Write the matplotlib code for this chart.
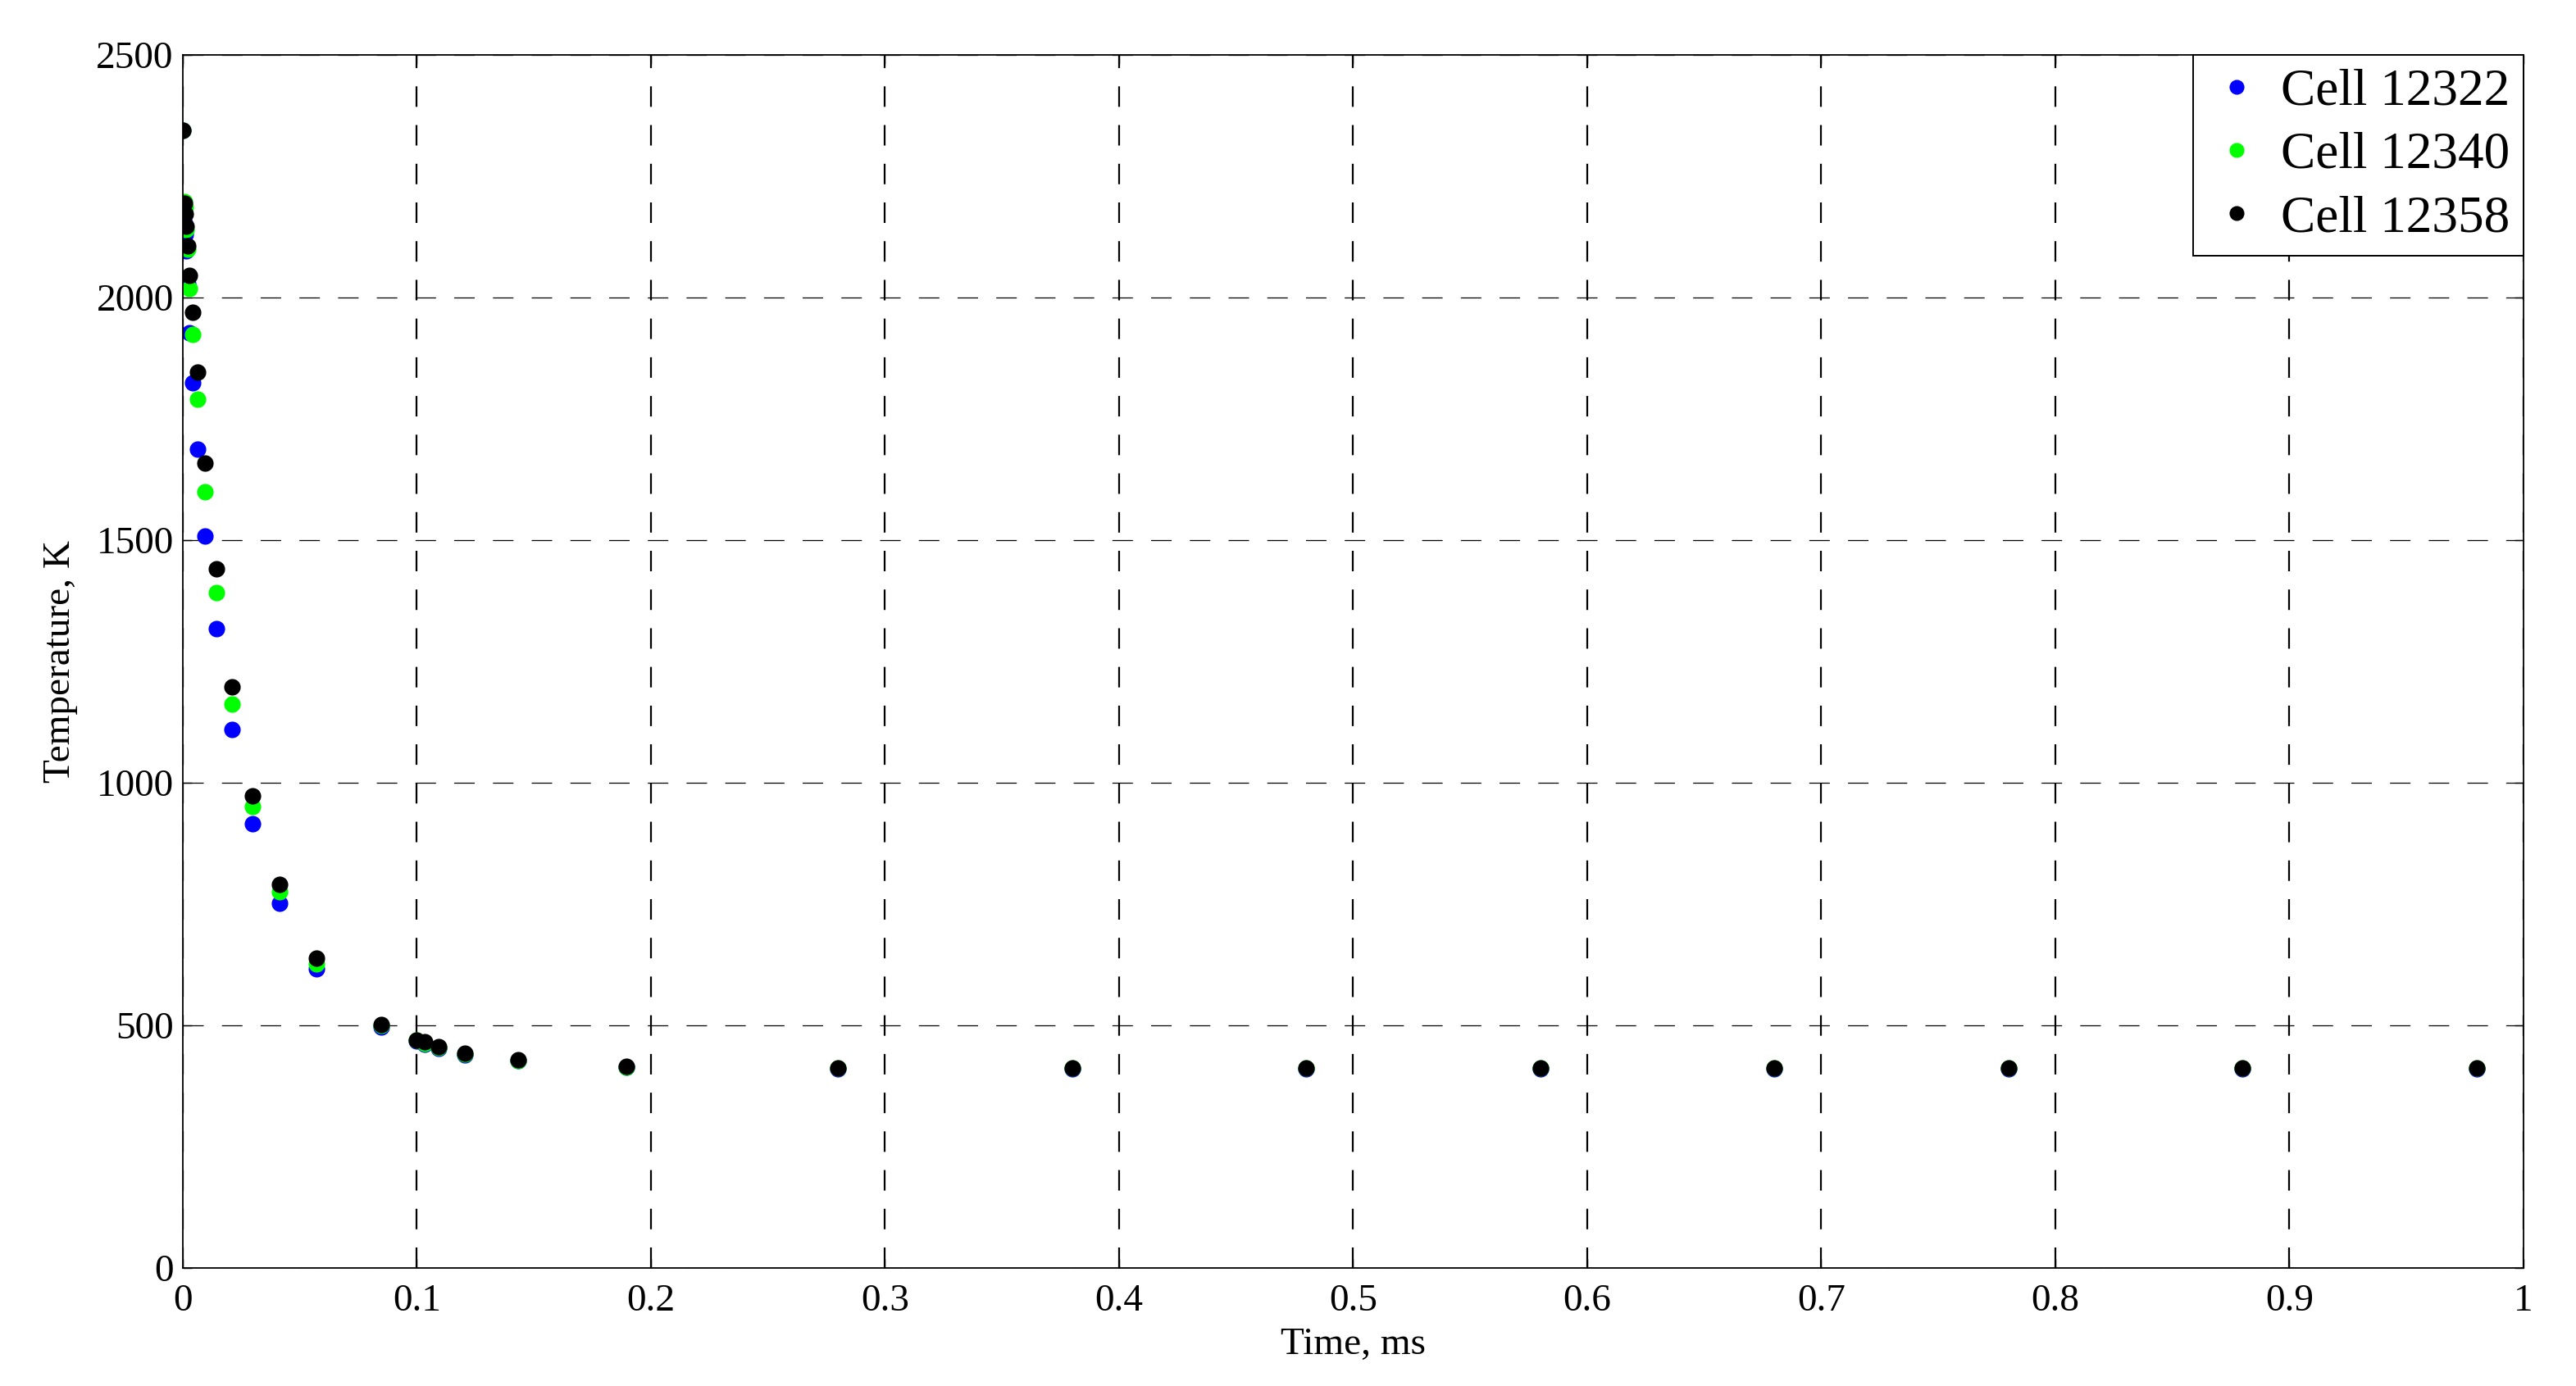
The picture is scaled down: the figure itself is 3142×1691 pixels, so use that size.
import matplotlib
matplotlib.use('Agg')
import matplotlib.pyplot as plt

plt.rcParams['font.family'] = ['Liberation Serif', 'DejaVu Serif']
plt.rcParams['lines.scale_dashes'] = False

# time, ms (shared output steps of the three cells)
time_ms = [0.0002, 0.0007, 0.0010, 0.0016, 0.0022, 0.0029, 0.0043, 0.0063,
           0.0097, 0.0144, 0.0211, 0.0299, 0.0414, 0.0570, 0.0847, 0.1000,
           0.1035, 0.1092, 0.1205, 0.1434, 0.1895, 0.28, 0.38, 0.48, 0.58,
           0.68, 0.78, 0.88, 0.98]

temp_12322 = [2345, 2153, 2130, 2096, 2028, 1928, 1824, 1688, 1508, 1317,
              1110, 915, 752, 617, 497, 467, 461, 453, 439, 427, 414, 411,
              411, 411, 411, 411, 411, 411, 411]
temp_12340 = [2345, 2197, 2185, 2140, 2099, 2019, 1924, 1791, 1600, 1392,
              1162, 951, 775, 626, 500, 469, 462, 455, 441, 428, 414, 412,
              412, 412, 412, 412, 412, 412, 412]
temp_12358 = [2345, 2195, 2172, 2147, 2106, 2045, 1970, 1847, 1658, 1441,
              1197, 973, 791, 638, 502, 470, 466, 456, 442, 429, 415, 412,
              412, 412, 412, 412, 412, 412, 412]

series = [('Cell 12322', temp_12322, (0, 0, 1)),
          ('Cell 12340', temp_12340, (0, 1, 0)),
          ('Cell 12358', temp_12358, (0, 0, 0))]

x_ticks = [0, 0.1, 0.2, 0.3, 0.4, 0.5, 0.6, 0.7, 0.8, 0.9, 1]
x_labels = ['0', '0.1', '0.2', '0.3', '0.4', '0.5', '0.6', '0.7', '0.8', '0.9', '1']
y_ticks = [0, 500, 1000, 1500, 2000, 2500]

fig = plt.figure(figsize=(31.42, 16.91), dpi=100)
ax = fig.add_axes([0.0709, 0.0852, 0.9796 - 0.0709, 0.9604 - 0.0852])

for name, temps, col in series:
    ax.plot(time_ms, temps, linestyle='none', marker='o', markersize=14.5,
            color=col, markeredgewidth=0, label=name)

ax.set_xlim(0, 1)
ax.set_ylim(0, 2500)
ax.set_xticks(x_ticks)
ax.set_xticklabels(x_labels)
ax.set_yticks(y_ticks)

ax.xaxis.grid(True, color='black', linewidth=1.6, linestyle=(0, (18, 16)))
ax.yaxis.grid(True, color='black', linewidth=0.9, linestyle=(0, (18, 16)))

for sp in ax.spines.values():
    sp.set_linewidth(1.3)

ax.tick_params(direction='in', length=8, width=1.0, top=True, right=True,
               labelsize=34)
ax.tick_params(axis='x', pad=14)
ax.tick_params(axis='y', pad=8)

ax.set_xlabel('Time, ms', fontsize=34, labelpad=8)
ax.set_ylabel('Temperature, K', fontsize=34, labelpad=16)

leg = ax.legend(loc='upper right', borderaxespad=0, fontsize=45.5,
                handlelength=1.15, handletextpad=0.28, borderpad=0.26,
                labelspacing=0.3, fancybox=False, framealpha=1,
                edgecolor='black', markerscale=0.9)
leg.get_frame().set_linewidth(1.4)

fig.savefig('out.png', dpi=100)
